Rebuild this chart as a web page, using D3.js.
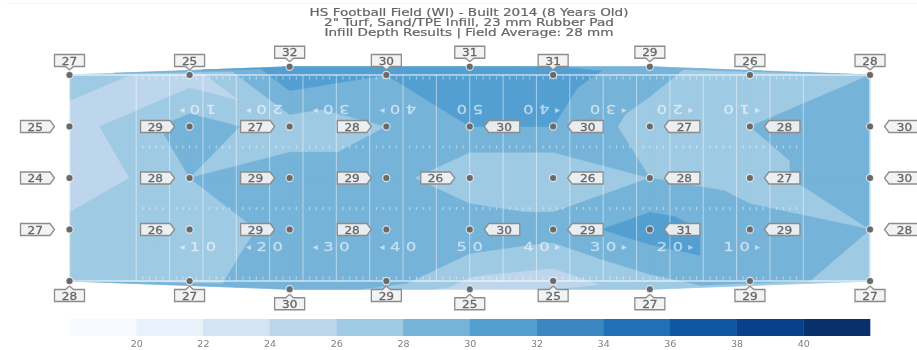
<!DOCTYPE html>
<html><head><meta charset="utf-8">
<script src="https://cdn.jsdelivr.net/npm/d3@7"></script>
<style>html,body{margin:0;padding:0;background:#fff;overflow:hidden}svg{display:block;filter:blur(0.45px)}text{font-family:"DejaVu Sans",sans-serif}</style>
</head><body><svg id="c" width="917" height="350"></svg>
<script>
const titleLines = ["HS Football Field (WI) - Built 2014 (8 Years Old)", "2\" Turf, Sand/TPE Infill, 23 mm Rubber Pad", "Infill Depth Results | Field Average: 28 mm"];
// sample columns along the field (yards from back of end zone) and rows across it
const columnYards = [0, 18, 33, 47.5, 60, 72.5, 87, 102, 120];
const rowIndex = [0, 1, 2, 3, 4];
const depths = [
  [27, 25, 32, 30, 31, 31, 29, 26, 28],
  [25, 29, 27, 28, 30, 30, 27, 28, 30],
  [24, 28, 29, 29, 26, 26, 28, 27, 30],
  [27, 26, 29, 28, 30, 29, 31, 29, 28],
  [28, 27, 30, 29, 25, 25, 27, 29, 27]
];
const outsetColumns = [2, 4, 6];           // columns whose sideline sample sits outside the field
// which way each grid cell of the interpolation mesh is split: B = "\", F = "/"
const cellSplit = [
  ["F", "B", "F", "B", "B", "B", "F", "F"],
  ["B", "F", "B", "F", "F", "B", "B", "F"],
  ["F", "B", "B", "B", "B", "F", "F", "B"],
  ["F", "F", "B", "F", "F", "B", "B", "F"]
];
const thresholds = [18, 20, 22, 24, 26, 28, 30, 32, 34, 36, 38, 40, 42];
const bandColors = ["#f7fbff", "#e9f2fb", "#d3e4f4", "#bdd6ec", "#9fcae3", "#76b3d9", "#549fd2", "#3a87c4", "#1f70b7", "#0d57a3", "#08408b", "#08306b"];
const legendTicks = [20, 22, 24, 26, 28, 30, 32, 34, 36, 38, 40];
const yardNumbers = [10, 20, 30, 40, 50, 40, 30, 20, 10];
const yardNumberYards = [20, 30, 40, 50, 60, 70, 80, 90, 100];

const svg = d3.select("#c");
const x = d3.scaleLinear().domain([0, 120]).range([69.5, 870]);
const y = d3.scaleLinear().domain([0, 4]).range([75, 281]);
const legendX = d3.scaleLinear().domain([18, 42]).range([69.5, 870]);
const OUT = 0.16;

svg.append("line").attr("x1", 6).attr("x2", 917).attr("y1", 3.5).attr("y2", 3.5).attr("stroke", "#f4f4f4");

const titleWidths = [319, 290, 289];
svg.append("g").selectAll("text").data(titleLines).join("text")
  .attr("x", 469).attr("y", (d, i) => 16 + i * 10.1)
  .attr("text-anchor", "middle").attr("font-size", 10.2).attr("fill", "#666")
  .attr("stroke", "#666").attr("stroke-width", 0.2)
  .attr("textLength", (d, i) => titleWidths[i]).attr("lengthAdjust", "spacingAndGlyphs").text(d => d);

// points
const nc = columnYards.length, nr = rowIndex.length;
const pts = [];
rowIndex.forEach((r, j) => columnYards.forEach((c, i) => {
  let rr = r;
  if (outsetColumns.includes(i)) { if (j === 0) rr = -OUT; if (j === 4) rr = 4 + OUT; }
  pts.push({ i, j, v: depths[j][i], px: x(c), py: y(rr) });
}));
const at = (i, j) => pts[j * nc + i];

// Triangular mesh over the samples
const tris = [];
cellSplit.forEach((row, j) => row.forEach((s, i) => {
  const a = at(i, j), b = at(i + 1, j), c = at(i, j + 1), e = at(i + 1, j + 1);
  if (s === "B") { tris.push([a, b, e], [a, c, e]); } else { tris.push([a, b, c], [b, c, e]); }
}));
outsetColumns.forEach(o => {
  tris.push([at(o - 2, 0), at(o - 1, 0), at(o, 0)], [at(o - 2, 4), at(o - 1, 4), at(o, 4)]);
});
tris.push([at(6, 0), at(7, 0), at(8, 0)], [at(6, 4), at(7, 4), at(8, 4)]);

function clipTri(tri, t) {
  const out = [];
  for (let k = 0; k < 3; k++) {
    const a = tri[k], b = tri[(k + 1) % 3];
    if (a.v >= t) out.push(a);
    if ((a.v >= t) !== (b.v >= t)) {
      const f = (t - a.v) / (b.v - a.v);
      out.push({ px: a.px + f * (b.px - a.px), py: a.py + f * (b.py - a.py), v: t });
    }
  }
  return out;
}
const bandG = svg.append("g");
bandColors.forEach((col, b) => {
  const t = thresholds[b];
  const p = d3.path();
  tris.forEach(tri => {
    const poly = clipTri(tri, t);
    if (poly.length < 3) return;
    if (Math.abs(d3.polygonArea(poly.map(q => [q.px, q.py]))) < 0.5) return;
    poly.forEach((q, n) => n ? p.lineTo(q.px, q.py) : p.moveTo(q.px, q.py));
    p.closePath();
  });
  if (String(p)) bandG.append("path").attr("d", String(p)).attr("fill", col).attr("stroke", col).attr("stroke-width", 0.5);
});

// Field markings
const field = svg.append("g").attr("stroke", "#fff").attr("fill", "none");
field.append("rect").attr("x", x(0)).attr("y", y(0)).attr("width", x(120) - x(0)).attr("height", y(4) - y(0))
  .attr("stroke-opacity", 0.6).attr("stroke-width", 1.6);
d3.range(10, 111, 5).forEach(yd => field.append("line").attr("x1", x(yd)).attr("x2", x(yd))
  .attr("y1", y(0)).attr("y2", y(4)).attr("stroke-opacity", 0.45).attr("stroke-width", 1.1));
const hashRows = [76.5, 145.5, 207, 276.5];
hashRows.forEach(hy => d3.range(11, 110).filter(yd => yd % 5).forEach(yd => field.append("line")
  .attr("x1", x(yd)).attr("x2", x(yd)).attr("y1", hy).attr("y2", hy + 3)
  .attr("stroke-opacity", 0.5).attr("stroke-width", 1)));

const numG = svg.append("g").attr("fill", "#fff").attr("fill-opacity", 0.55).attr("font-size", 13).attr("text-anchor", "middle");
function digit(str, cx, cy, flipped) {
  numG.append("text").attr("transform", `translate(${cx},${cy})${flipped ? " rotate(180)" : ""} scale(1.25,1)`)
    .attr("y", 4.7).attr("stroke", "#fff").attr("stroke-opacity", 0.35).attr("stroke-width", 0.4).text(str);
}
yardNumbers.forEach((n, k) => {
  const yd = yardNumberYards[k], lx = x(yd);
  const s = String(n);
  digit(s[0], lx - 8, 246.5, false); digit(s[1], lx + 8, 246.5, false);
  digit(s[0], lx + 8, 109.5, true); digit(s[1], lx - 8, 109.5, true);
  if (yd !== 60) {
    const ax = yd < 60 ? lx - 21 : lx + 21, g = yd < 60 ? "\u25C2" : "\u25B8";
    [246.5, 109.5].forEach(cy => numG.append("text").attr("x", ax).attr("y", cy + 3.5).attr("font-size", 10).text(g));
  }
});

// Sample points and callouts
const BW = 30, BH = 12;
const calloutG = svg.append("g");
pts.forEach(d => {
  svg.append("circle").attr("cx", d.px).attr("cy", d.py).attr("r", 3.6)
    .attr("fill", "#6a6a6a").attr("stroke", "#fff").attr("stroke-opacity", 0.7).attr("stroke-width", 1.2);
  let side;
  if (d.j === 0) side = "top"; else if (d.j === nr - 1) side = "bottom";
  else if (d.i <= 3 || (d.i === 4 && d.j === 2)) side = "left"; else side = "right";
  let cx, cy;
  const px = d.px, py = d.py;
  const pth = d3.path();
  if (side === "top") {
    cx = px; cy = py - 14.5;
    const t = cy - BH / 2, b = cy + BH / 2, l = cx - BW / 2, r = cx + BW / 2;
    pth.moveTo(l, t); pth.lineTo(r, t); pth.lineTo(r, b); pth.lineTo(cx + 4, b); pth.lineTo(cx, b + 3.5); pth.lineTo(cx - 4, b); pth.lineTo(l, b);
  } else if (side === "bottom") {
    cx = px; cy = py + 14.5;
    const t = cy - BH / 2, b = cy + BH / 2, l = cx - BW / 2, r = cx + BW / 2;
    pth.moveTo(l, t); pth.lineTo(cx - 4, t); pth.lineTo(cx, t - 3.5); pth.lineTo(cx + 4, t); pth.lineTo(r, t); pth.lineTo(r, b); pth.lineTo(l, b);
  } else if (side === "left") {
    const r = px - 19.5, l = r - 29.5; cx = (l + r) / 2; cy = py;
    const t = cy - BH / 2, b = cy + BH / 2;
    pth.moveTo(l, t); pth.lineTo(r, t); pth.lineTo(r + 4.5, cy); pth.lineTo(r, b); pth.lineTo(l, b);
  } else {
    const l = px + 19, r = l + 31; cx = (l + r) / 2; cy = py;
    const t = cy - BH / 2, b = cy + BH / 2;
    pth.moveTo(l, t); pth.lineTo(l - 4.5, cy); pth.lineTo(l, b); pth.lineTo(r, b); pth.lineTo(r, t);
  }
  pth.closePath();
  calloutG.append("path").attr("d", String(pth)).attr("fill", "#f1f2f3").attr("fill-opacity", 0.92).attr("stroke", "#8c8c8c").attr("stroke-width", 1.3);
  calloutG.append("text").attr("transform", `translate(${cx},${cy + 4}) scale(1.1,1)`).attr("text-anchor", "middle")
    .attr("font-size", 11).attr("fill", "#666").attr("stroke", "#666").attr("stroke-width", 0.3).text(d.v);
});

// Legend
const leg = svg.append("g");
bandColors.forEach((col, k) => leg.append("rect").attr("x", legendX(thresholds[k])).attr("y", 319)
  .attr("width", legendX(thresholds[k + 1]) - legendX(thresholds[k]) + 0.3).attr("height", 17).attr("fill", col));
const axis = d3.axisBottom(legendX).tickValues(legendTicks).tickSize(0).tickPadding(0);
const ax = svg.append("g").attr("transform", "translate(0,336)").call(axis);
ax.select(".domain").remove();
ax.selectAll("text").attr("y", 10.5).attr("dy", 0).attr("font-size", 9.5).attr("fill", "#808080").style("font-family", '"DejaVu Sans",sans-serif');
</script></body></html>
